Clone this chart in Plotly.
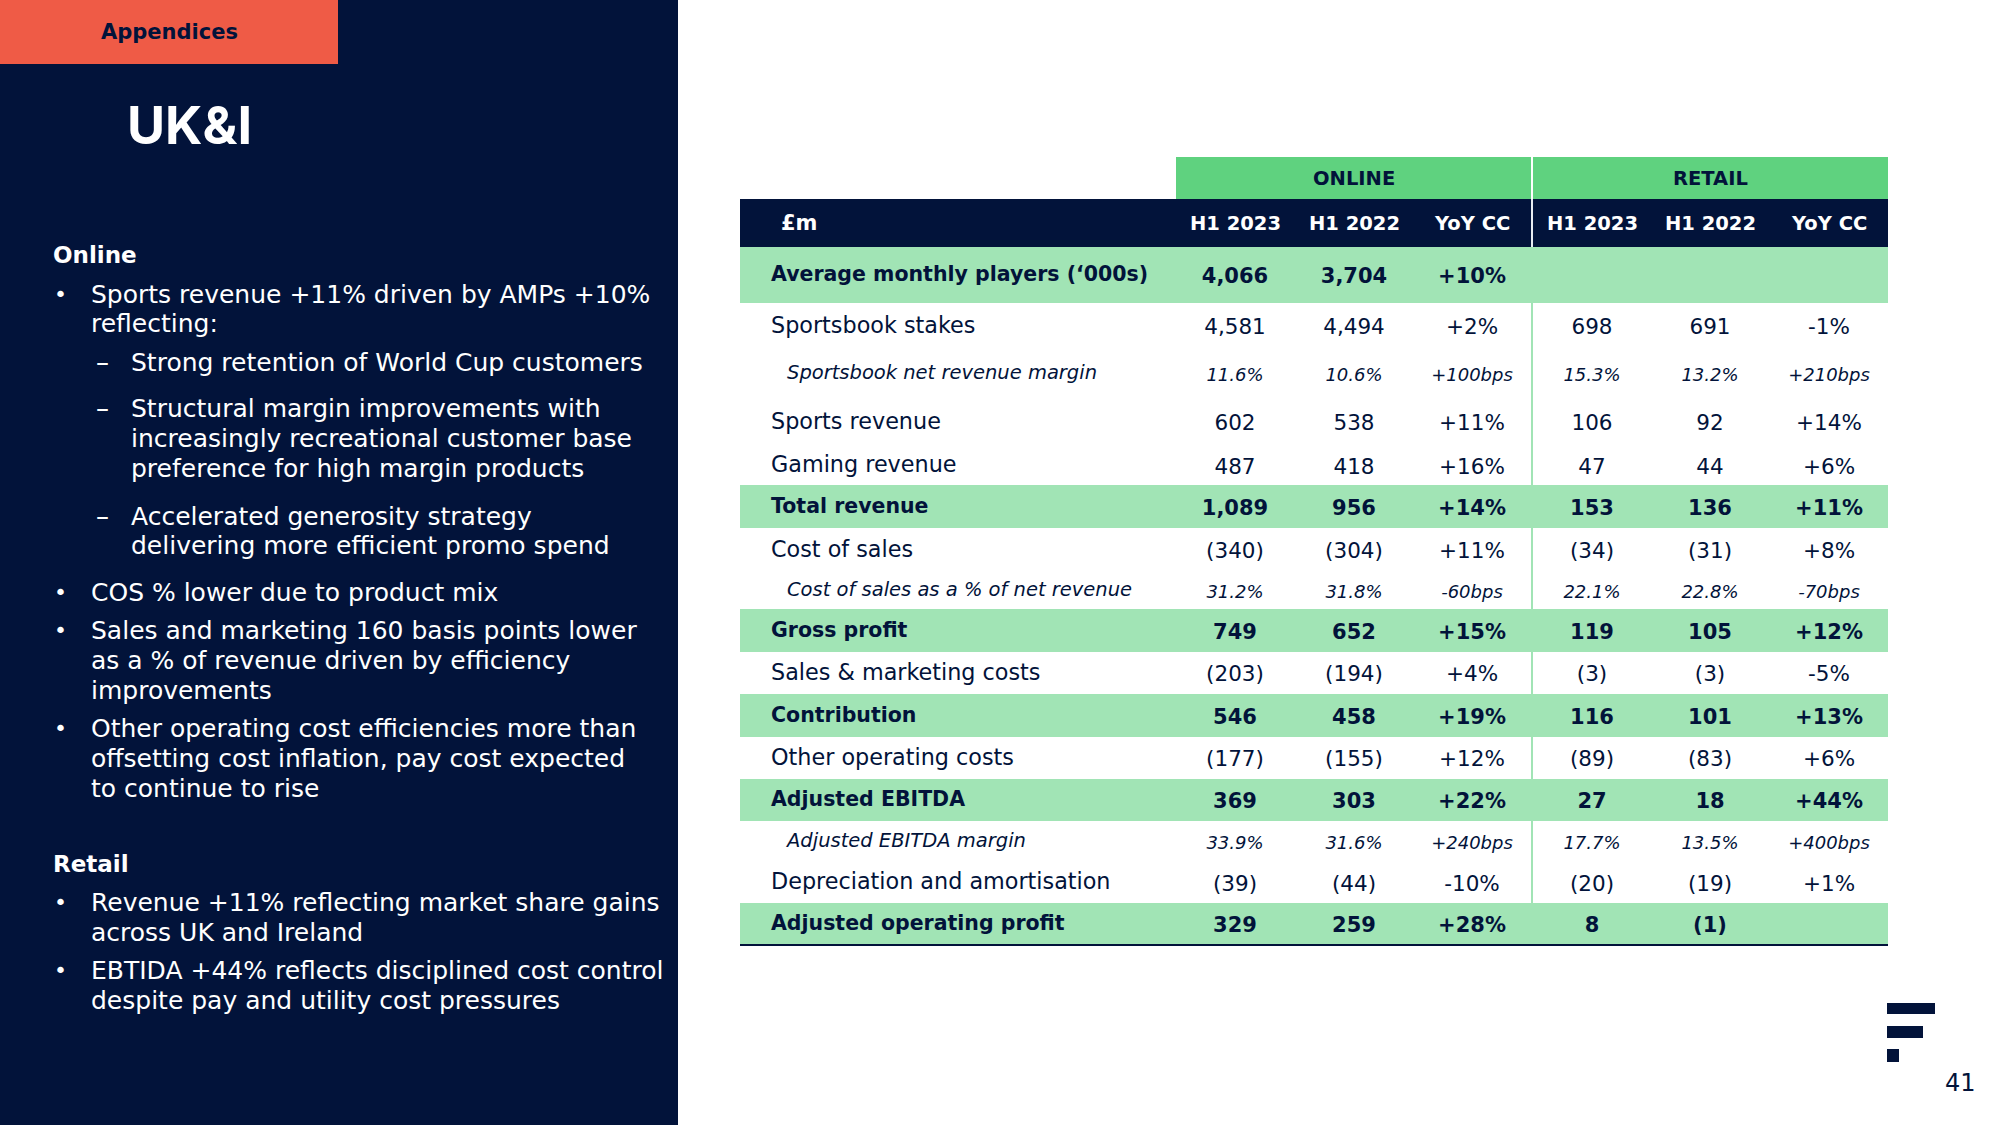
import plotly.graph_objects as go

# ---------------- data ----------------
row_labels = [
    "Average monthly players (‘000s)", "Sportsbook stakes", "Sportsbook net revenue margin",
    "Sports revenue", "Gaming revenue", "Total revenue", "Cost of sales",
    "Cost of sales as a % of net revenue", "Gross profit", "Sales & marketing costs",
    "Contribution", "Other operating costs", "Adjusted EBITDA", "Adjusted EBITDA margin",
    "Depreciation and amortisation", "Adjusted operating profit",
]
row_kind = ["total", "line", "sub", "line", "line", "total", "line", "sub", "total",
            "line", "total", "line", "total", "sub", "line", "total"]
online_h1_2023 = ["4,066", "4,581", "11.6%", "602", "487", "1,089", "(340)", "31.2%", "749",
                  "(203)", "546", "(177)", "369", "33.9%", "(39)", "329"]
online_h1_2022 = ["3,704", "4,494", "10.6%", "538", "418", "956", "(304)", "31.8%", "652",
                  "(194)", "458", "(155)", "303", "31.6%", "(44)", "259"]
online_yoy = ["+10%", "+2%", "+100bps", "+11%", "+16%", "+14%", "+11%", "-60bps", "+15%",
              "+4%", "+19%", "+12%", "+22%", "+240bps", "-10%", "+28%"]
retail_h1_2023 = ["", "698", "15.3%", "106", "47", "153", "(34)", "22.1%", "119",
                  "(3)", "116", "(89)", "27", "17.7%", "(20)", "8"]
retail_h1_2022 = ["", "691", "13.2%", "92", "44", "136", "(31)", "22.8%", "105",
                  "(3)", "101", "(83)", "18", "13.5%", "(19)", "(1)"]
retail_yoy = ["", "-1%", "+210bps", "+14%", "+6%", "+11%", "+8%", "-70bps", "+12%",
              "-5%", "+13%", "+6%", "+44%", "+400bps", "+1%", ""]
col_headers = ["H1 2023", "H1 2022", "YoY CC", "H1 2023", "H1 2022", "YoY CC"]
group_headers = ["ONLINE", "RETAIL"]

online_notes = [
    ("•", ["Sports revenue +11% driven by AMPs +10%", "reflecting:"]),
    ("–", ["Strong retention of World Cup customers"]),
    ("–", ["Structural margin improvements with", "increasingly recreational customer base",
           "preference for high margin products"]),
    ("–", ["Accelerated generosity strategy", "delivering more efficient promo spend"]),
    ("•", ["COS % lower due to product mix"]),
    ("•", ["Sales and marketing 160 basis points lower", "as a % of revenue driven by efficiency",
           "improvements"]),
    ("•", ["Other operating cost efficiencies more than", "offsetting cost inflation, pay cost expected",
           "to continue to rise"]),
]
retail_notes = [
    ("•", ["Revenue +11% reflecting market share gains", "across UK and Ireland"]),
    ("•", ["EBTIDA +44% reflects disciplined cost control", "despite pay and utility cost pressures"]),
]

# ---------------- styles / layout ----------------
W, H = 2000, 1125
NAVY = "#02133A"
ORANGE = "#EF5B46"
GREEN = "#5FD27F"
BAND = "#A1E4B5"
FONT = "'DejaVu Sans', Inter, sans-serif"
TITLE_FONT = "Inter, 'Open Sans', sans-serif"

row_heights = [56, 46, 49, 48, 39, 43, 44, 37, 43, 42, 43, 42, 42, 41, 41, 42]
table_left, table_right = 740, 1888
group_x = [(1176, 1531), (1533, 1888)]
col_x = [1235, 1354, 1472, 1592, 1710, 1829]
grp_top, head_top, body_top = 157, 199, 247
label_x, sub_x = 771, 787
label_size = {"total": 20.5, "line": 22.3, "sub": 19.5}
value_size = {"total": 21, "line": 21.5, "sub": 18}

fig = go.Figure()
shapes = []
annotations = []

# left panel
shapes.append(dict(type="rect", x0=0, x1=678, y0=0, y1=H, fillcolor=NAVY, line_width=0, layer="below"))
shapes.append(dict(type="rect", x0=0, x1=338, y0=0, y1=64, fillcolor=ORANGE, line_width=0, layer="below"))
annotations.append(dict(x=169, y=32, text="<b>Appendices</b>", showarrow=False,
                        font=dict(family=FONT, size=21, color=NAVY), xanchor="center", yanchor="middle"))
annotations.append(dict(x=125, y=125, text="<b>UK&I</b>", showarrow=False,
                        font=dict(family=TITLE_FONT, size=52, color="white"), xanchor="left", yanchor="middle"))

def add_section(title, title_y, notes, line_ys):
    annotations.append(dict(x=51, y=title_y, text="<b>" + title + "</b>", showarrow=False,
                            font=dict(family=FONT, size=23, color="white"), xanchor="left", yanchor="middle"))
    k = 0
    for marker, lines in notes:
        for j, ln in enumerate(lines):
            y = line_ys[k]
            if j == 0:
                mx = 52 if marker == "•" else 94
                annotations.append(dict(x=mx, y=y, text=marker, showarrow=False,
                                        font=dict(family=FONT, size=22 if marker == "•" else 26,
                                                  color="white"),
                                        xanchor="left", yanchor="middle"))
            tx = 89 if marker == "•" else 129
            annotations.append(dict(x=tx, y=y, text=ln, showarrow=False,
                                    font=dict(family=FONT, size=25, color="white"),
                                    xanchor="left", yanchor="middle"))
            k += 1

add_section("Online", 255, online_notes,
            [294, 323, 362, 408, 438, 468, 516, 545, 592, 630, 660, 690, 728, 758, 788])
add_section("Retail", 864, retail_notes, [902, 932, 970, 1000])

# table frame
for (x0, x1), g in zip(group_x, group_headers):
    shapes.append(dict(type="rect", x0=x0, x1=x1, y0=grp_top, y1=head_top, fillcolor=GREEN,
                       line_width=0, layer="below"))
    annotations.append(dict(x=(x0 + x1) / 2, y=(grp_top + head_top) / 2, text="<b>" + g + "</b>",
                            showarrow=False, font=dict(family=FONT, size=19.5, color=NAVY),
                            xanchor="center", yanchor="middle"))
shapes.append(dict(type="rect", x0=table_left, x1=table_right, y0=head_top, y1=body_top,
                   fillcolor=NAVY, line_width=0, layer="below"))
shapes.append(dict(type="line", x0=1532, x1=1532, y0=head_top, y1=body_top,
                   line=dict(color="#E8ECF2", width=2), layer="below"))
annotations.append(dict(x=779, y=(head_top + body_top) / 2, text="<b>£m</b>", showarrow=False,
                        font=dict(family=FONT, size=21, color="white"), xanchor="left", yanchor="middle"))
for cx, h in zip(col_x, col_headers):
    annotations.append(dict(x=cx, y=(head_top + body_top) / 2, text="<b>" + h + "</b>", showarrow=False,
                            font=dict(family=FONT, size=19.5, color="white"), xanchor="center",
                            yanchor="middle"))

# row geometry
tops, centers = [], []
y = body_top
for h in row_heights:
    tops.append(y)
    centers.append(y + h / 2)
    y += h
table_bottom = y

# vertical divider in body (under bands)
shapes.append(dict(type="line", x0=1532, x1=1532, y0=body_top, y1=table_bottom,
                   line=dict(color=BAND, width=2), layer="below"))
for t, h, kind in zip(tops, row_heights, row_kind):
    if kind == "total":
        shapes.append(dict(type="rect", x0=table_left, x1=table_right, y0=t, y1=t + h,
                           fillcolor=BAND, line_width=0, layer="below"))
shapes.append(dict(type="line", x0=table_left, x1=table_right, y0=table_bottom, y1=table_bottom,
                   line=dict(color=NAVY, width=2), layer="below"))

def fmt(s, kind):
    if kind == "total":
        return "<b>" + s + "</b>"
    if kind == "sub":
        return "<i>" + s + "</i>"
    return s

# labels
fig.add_trace(go.Scatter(
    x=[sub_x if k == "sub" else label_x for k in row_kind],
    y=[c + 1 for c in centers],
    text=[fmt(l, k) for l, k in zip(row_labels, row_kind)],
    mode="text", textposition="middle right",
    textfont=dict(family=FONT, size=[label_size[k] for k in row_kind], color=NAVY),
    hoverinfo="skip", showlegend=False,
))
for cx, col in zip(col_x, [online_h1_2023, online_h1_2022, online_yoy,
                           retail_h1_2023, retail_h1_2022, retail_yoy]):
    fig.add_trace(go.Scatter(
        x=[cx] * len(col), y=[c + 3 for c in centers],
        text=[fmt(v, k) for v, k in zip(col, row_kind)],
        mode="text", textposition="middle center",
        textfont=dict(family=FONT, size=[value_size[k] for k in row_kind], color=NAVY),
        hoverinfo="skip", showlegend=False,
    ))

# logo and page number
for x1, y0, y1 in [(1935, 1003, 1014), (1923, 1026, 1038), (1899, 1049, 1062)]:
    shapes.append(dict(type="rect", x0=1887, x1=x1, y0=y0, y1=y1, fillcolor=NAVY, line_width=0))
annotations.append(dict(x=1960, y=1083, text="41", showarrow=False,
                        font=dict(family=FONT, size=24, color=NAVY), xanchor="center", yanchor="middle"))

for a in annotations:
    a.update(xref="x", yref="y")

fig.update_layout(
    width=W, height=H, margin=dict(l=0, r=0, t=0, b=0),
    paper_bgcolor="white", plot_bgcolor="white",
    xaxis=dict(range=[0, W], visible=False, fixedrange=True),
    yaxis=dict(range=[H, 0], visible=False, fixedrange=True),
    shapes=shapes, annotations=annotations,
)
fig.write_html("out.html", config={"displayModeBar": False},
               post_script="document.body.style.margin='0';document.body.style.overflow='hidden';")
